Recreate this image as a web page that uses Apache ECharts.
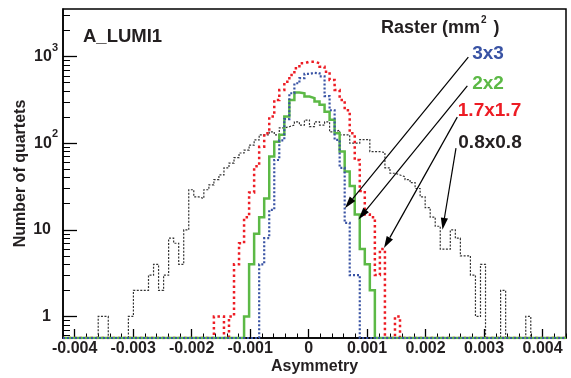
<!DOCTYPE html>
<html>
<head>
<meta charset="utf-8">
<script src="https://cdn.jsdelivr.net/npm/echarts@6/dist/echarts.min.js"></script>
<style>
  html, body { margin: 0; padding: 0; background: #fff; }
  #chart { width: 571px; height: 378px; }
</style>
</head>
<body>
<div id="chart"></div>
<script>
// histogram: 100 bins from -0.0042 to 0.0044
const binLow = -0.0042;
const binHigh = 0.0044;

// counts per bin, one array per raster size
const raster08 = [
  0, 0, 0, 0, 0, 0, 0, 1, 1, 0,
  0, 0, 0, 1, 2, 2, 2, 3, 4, 2,
  3, 8, 7, 4, 10, 29, 24, 23, 29, 33,
  38, 43, 52, 59, 68, 77, 83, 95, 109, 125,
  125, 135, 125, 150, 155, 162, 176, 162, 185, 155,
  176, 162, 176, 135, 141, 125, 125, 100, 100, 110,
  110, 80, 80, 78, 52, 45, 43, 41, 38, 35,
  30, 24, 18, 14, 11, 6, 6, 10, 8, 5,
  5, 3, 1, 4, 0, 0, 0, 2, 0, 0,
  0, 0, 1, 0, 0, 0, 0, 0, 0, 0
];
const raster17 = [
  0, 0, 0, 0, 0, 0, 0, 0, 0, 0,
  0, 0, 0, 0, 0, 0, 0, 0, 0, 0,
  0, 0, 0, 0, 0, 0, 0, 0, 0, 0,
  1, 1, 0, 1, 4, 7, 14, 27, 54, 91,
  130, 203, 316, 412, 513, 614, 733, 837, 874, 874,
  837, 765, 670, 537, 412, 316, 240, 130, 64, 28,
  15, 14, 3, 6, 0, 0, 1, 0, 0, 0,
  0, 0, 0, 0, 0, 0, 0, 0, 0, 0,
  0, 0, 0, 0, 0, 0, 0, 0, 0, 0,
  0, 0, 0, 0, 0, 0, 0, 0, 0, 0
];
const raster2 = [
  0, 0, 0, 0, 0, 0, 0, 0, 0, 0,
  0, 0, 0, 0, 0, 0, 0, 0, 0, 0,
  0, 0, 0, 0, 0, 0, 0, 0, 0, 0,
  0, 0, 0, 0, 0, 0, 1, 4, 9, 14,
  23, 70, 104, 125, 203, 316, 384, 377, 345, 331,
  302, 277, 231, 186, 130, 80, 47, 32, 15, 6,
  4, 2, 0, 0, 0, 0, 0, 0, 0, 0,
  0, 0, 0, 0, 0, 0, 0, 0, 0, 0,
  0, 0, 0, 0, 0, 0, 0, 0, 0, 0,
  0, 0, 0, 0, 0, 0, 0, 0, 0, 0
];
const raster3 = [
  0, 0, 0, 0, 0, 0, 0, 0, 0, 0,
  0, 0, 0, 0, 0, 0, 0, 0, 0, 0,
  0, 0, 0, 0, 0, 0, 0, 0, 0, 0,
  0, 0, 0, 0, 0, 0, 0, 0, 0, 4,
  8, 17, 64, 108, 190, 377, 492, 564, 630, 650,
  640, 590, 350, 240, 109, 52, 12, 3, 3, 0,
  0, 0, 0, 0, 0, 0, 0, 0, 0, 0,
  0, 0, 0, 0, 0, 0, 0, 0, 0, 0,
  0, 0, 0, 0, 0, 0, 0, 0, 0, 0,
  0, 0, 0, 0, 0, 0, 0, 0, 0, 0
];

const xTicks = [-0.004, -0.003, -0.002, -0.001, 0, 0.001, 0.002, 0.003, 0.004];
const xTickLabels = ['-0.004', '-0.003', '-0.002', '-0.001', '0', '0.001', '0.002', '0.003', '0.004'];
const yTicks = [1, 10, 100, 1000];
const yTickLabels = ['1', '10', '10^2', '10^3'];
const yMinorTicks = [0.6, 0.7, 0.8, 0.9, 2, 3, 4, 5, 6, 7, 8, 9, 20, 30, 40, 50, 60, 70, 80, 90,
  200, 300, 400, 500, 600, 700, 800, 900, 2000, 3000];
const yMin = 0.564, yMax = 3540;

// annotation arrows: label end -> histogram, in [asymmetry, count]
const arrows = [
  { from: [0.00273, 982], to: [0.000621, 17.8] },
  { from: [0.002713, 458], to: [0.000852, 13.2] },
  { from: [0.002541, 200], to: [0.001288, 6.15] },
  { from: [0.002519, 87.5], to: [0.002288, 10.0] }
];

const FONT = '"Liberation Sans", Arial, Helvetica, sans-serif';
const BLUE = '#3953a4', GREEN = '#5cb946', RED = '#ed1c24', BLACK = '#231f20';

const LOG = v => Math.log10(v);
const yLo = LOG(yMin), yHi = LOG(yMax);

function histPoints(counts) {
  const w = (binHigh - binLow) / counts.length;
  const pts = counts.map((c, i) => [binLow + i * w, c > 0 ? LOG(c) : yLo]);
  pts.push([binHigh, pts[pts.length - 1][1]]);
  return pts;
}

function hist(name, counts, color, width, dash) {
  return {
    name, type: 'line', step: 'end', data: histPoints(counts),
    symbol: 'none', silent: true, animation: false,
    lineStyle: { color, width, type: dash, cap: 'butt', join: 'miter' }
  };
}

const xMinor = [];
for (let k = -21; k <= 22; k++) xMinor.push(k / 5000);

const labelText = (color, size) => ({ fill: color, fontSize: size, fontWeight: 'bold', fontFamily: FONT });

const chart = echarts.init(document.getElementById('chart'), null, { renderer: 'canvas' });
chart.setOption({
  animation: false,
  textStyle: { fontFamily: FONT },
  grid: {
    left: 63, right: 5, top: 9, bottom: 40, show: true, borderColor: '#000', borderWidth: 1.5,
    containLabel: false, outerBoundsMode: 'none'
  },
  xAxis: [{
    type: 'value', min: binLow, max: binHigh, position: 'bottom',
    axisLine: { onZero: false, lineStyle: { color: '#000', width: 1.5 } },
    axisTick: { inside: true, length: 9, customValues: xTicks, lineStyle: { color: '#000', width: 1.3 } },
    axisLabel: {
      customValues: xTicks, margin: 3, fontSize: 16, fontWeight: 'bold', color: BLACK,
      formatter: v => xTickLabels[xTicks.findIndex(t => Math.abs(t - v) < 1e-9)]
    },
    splitLine: { show: false },
    name: 'Asymmetry', nameLocation: 'middle', nameGap: 21, nameMoveOverlap: false,
    nameTextStyle: { fontSize: 16, fontWeight: 'bold', color: BLACK }
  }, {
    type: 'value', min: binLow, max: binHigh, position: 'bottom',
    axisLine: { show: false, onZero: false },
    axisTick: { inside: true, length: 4.5, customValues: xMinor, lineStyle: { color: '#000', width: 1 } },
    axisLabel: { show: false },
    splitLine: { show: false }
  }],
  yAxis: [{
    type: 'value', min: yLo, max: yHi, position: 'left',
    axisLine: { show: true, onZero: false, lineStyle: { color: '#000', width: 1.5 } },
    axisTick: { inside: true, length: 14, customValues: yTicks.map(LOG), lineStyle: { color: '#000', width: 1.3 } },
    axisLabel: {
      customValues: yTicks.map(LOG), margin: 5, color: BLACK,
      formatter: v => {
        const s = yTickLabels[yTicks.findIndex(t => Math.abs(LOG(t) - v) < 1e-6)];
        const parts = s.split('^');
        return parts.length > 1 ? '{n|' + parts[0] + '}{s|' + parts[1] + '}' : '{p|' + parts[0] + '}';
      },
      rich: {
        n: { fontSize: 16, fontWeight: 'bold', color: BLACK, verticalAlign: 'middle' },
        s: { fontSize: 11, fontWeight: 'bold', color: BLACK, verticalAlign: 'middle', padding: [0, 0, 18, 0] },
        p: { fontSize: 16, fontWeight: 'bold', color: BLACK, verticalAlign: 'middle', padding: [0, 7, 0, 0] }
      }
    },
    splitLine: { show: false },
    name: 'Number of quartets', nameLocation: 'middle', nameGap: 34, nameMoveOverlap: false,
    nameTextStyle: { fontSize: 16, fontWeight: 'bold', color: BLACK }
  }, {
    type: 'value', min: yLo, max: yHi, position: 'left',
    axisLine: { show: false, onZero: false },
    axisTick: { inside: true, length: 7, customValues: yMinorTicks.map(LOG), lineStyle: { color: '#000', width: 1 } },
    axisLabel: { show: false },
    splitLine: { show: false }
  }],
  series: [
    hist('0.8x0.8', raster08, '#333', 1.2, [2, 1.5]),
    hist('1.7x1.7', raster17, RED, 2.5, [2.5, 3]),
    hist('2x2', raster2, GREEN, 2.5, 'solid'),
    hist('3x3', raster3, BLUE, 2.2, [2, 2])
  ]
});

// arrows from the raster labels to the histograms, placed through the grid's own scales
const arrowEls = [];
arrows.forEach(a => {
  const p0 = chart.convertToPixel({ gridIndex: 0 }, [a.from[0], LOG(a.from[1])]);
  const p1 = chart.convertToPixel({ gridIndex: 0 }, [a.to[0], LOG(a.to[1])]);
  const dx = p1[0] - p0[0], dy = p1[1] - p0[1];
  const len = Math.hypot(dx, dy), ux = dx / len, uy = dy / len;
  const hl = 12, hw = 3.6;
  const bx = p1[0] - ux * hl, by = p1[1] - uy * hl;
  arrowEls.push({ type: 'line', silent: true, z: 10,
    shape: { x1: p0[0], y1: p0[1], x2: bx, y2: by },
    style: { stroke: '#000', lineWidth: 1.2 } });
  arrowEls.push({ type: 'polygon', silent: true, z: 10,
    shape: { points: [[p1[0], p1[1]], [bx - uy * hw, by + ux * hw], [bx + uy * hw, by - ux * hw]] },
    style: { fill: '#000' } });
});

const textEls = [
  { type: 'text', x: 83, y: 37, silent: true,
    style: Object.assign({ text: 'A_LUMI1', verticalAlign: 'middle', textVerticalAlign: 'middle' }, labelText(BLACK, 18.5)) },
  { type: 'text', x: 381, y: 28.5, silent: true,
    style: Object.assign({
      text: '{a|Raster (mm}{s|2}{c|)}', verticalAlign: 'middle', textVerticalAlign: 'middle',
      rich: {
        a: { fontSize: 18, fontWeight: 'bold', fontFamily: FONT, fill: BLACK, verticalAlign: 'middle' },
        s: { fontSize: 10, fontWeight: 'bold', fontFamily: FONT, fill: BLACK, verticalAlign: 'middle', padding: [0, 0, 17, 1] },
        c: { fontSize: 18, fontWeight: 'bold', fontFamily: FONT, fill: BLACK, verticalAlign: 'middle', padding: [0, 0, 0, 7] }
      }
    }, labelText(BLACK, 18)) },
  { type: 'text', x: 488, y: 54, silent: true,
    style: Object.assign({ text: '3x3', align: 'center', textAlign: 'center', verticalAlign: 'middle', textVerticalAlign: 'middle' }, labelText(BLUE, 19)) },
  { type: 'text', x: 488, y: 83.5, silent: true,
    style: Object.assign({ text: '2x2', align: 'center', textAlign: 'center', verticalAlign: 'middle', textVerticalAlign: 'middle' }, labelText(GREEN, 19)) },
  { type: 'text', x: 489.5, y: 110.5, silent: true,
    style: Object.assign({ text: '1.7x1.7', align: 'center', textAlign: 'center', verticalAlign: 'middle', textVerticalAlign: 'middle' }, labelText(RED, 19)) },
  { type: 'text', x: 490, y: 143, silent: true,
    style: Object.assign({ text: '0.8x0.8', align: 'center', textAlign: 'center', verticalAlign: 'middle', textVerticalAlign: 'middle' }, labelText(BLACK, 19)) }
];

chart.setOption({ graphic: textEls.concat(arrowEls) });
</script>
</body>
</html>
